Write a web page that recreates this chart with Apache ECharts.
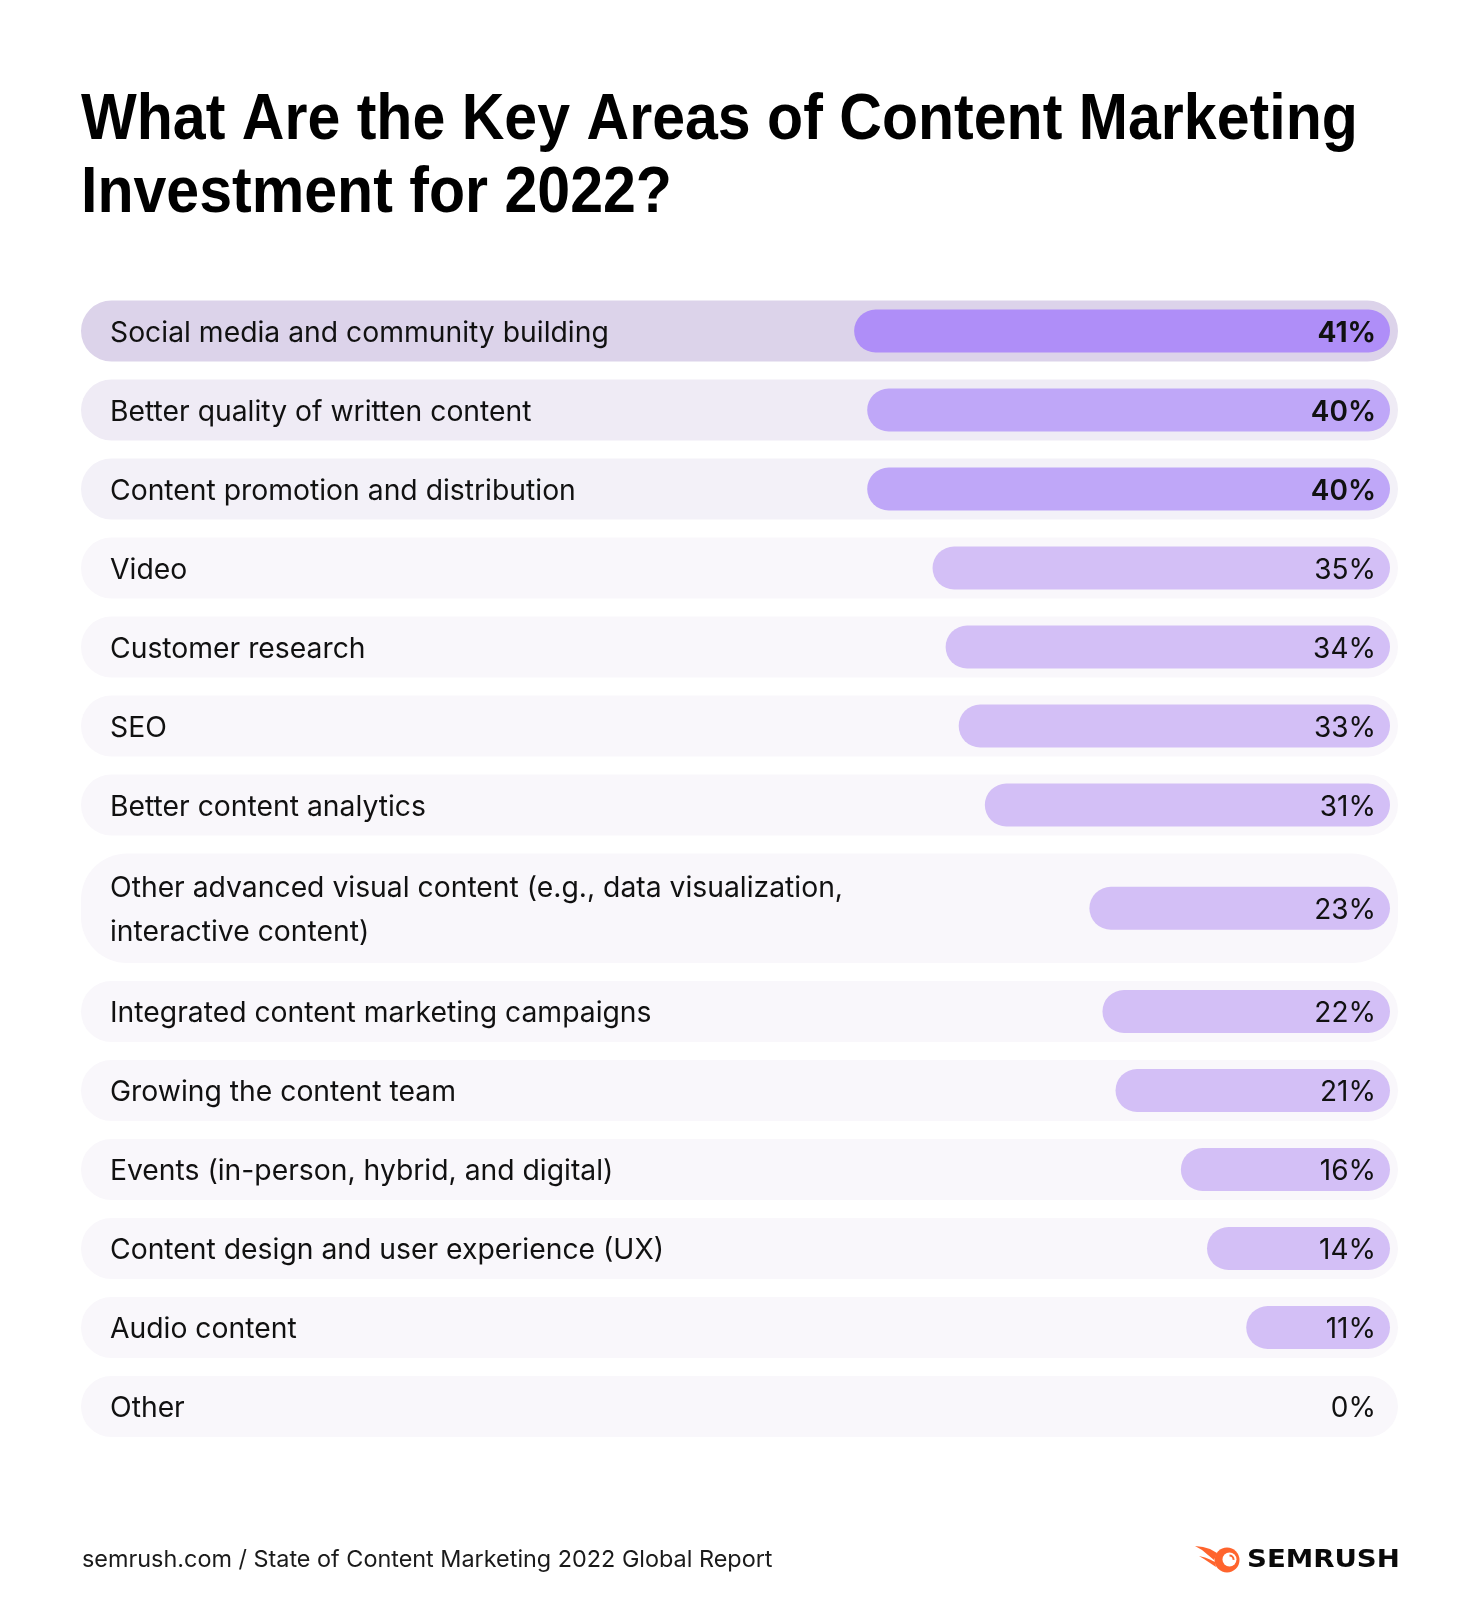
<!DOCTYPE html>
<html>
<head>
<meta charset="utf-8">
<style>
  html, body { margin: 0; padding: 0; background: #ffffff; }
  #chart { width: 1481px; height: 1600px; }
</style>
<script src="https://cdn.jsdelivr.net/npm/echarts@6/dist/echarts.min.js"></script>
</head>
<body>
<div id="chart"></div>
<script>
const titleLines = ['What Are the Key Areas of Content Marketing', 'Investment for 2022?'];
const sourceText = 'semrush.com / State of Content Marketing 2022 Global Report';
const categories = [
  'Social media and community building',
  'Better quality of written content',
  'Content promotion and distribution',
  'Video',
  'Customer research',
  'SEO',
  'Better content analytics',
  'Other advanced visual content (e.g., data visualization,\ninteractive content)',
  'Integrated content marketing campaigns',
  'Growing the content team',
  'Events (in-person, hybrid, and digital)',
  'Content design and user experience (UX)',
  'Audio content',
  'Other'
];
const values = [41, 40, 40, 35, 34, 33, 31, 23, 22, 21, 16, 14, 11, 0];

// layout helpers (row slots in axis units)
const extraLineUnits = 0.614;
let cursor = 0;
const rows = categories.map((c, i) => {
  const lines = c.split('\n').length;
  const units = 1 + (lines - 1) * extraLineUnits;
  const item = [values[i], cursor, units, i];
  cursor += units;
  return item;
});
const totalUnits = cursor;

const rowBg = ['#DCD3EA', '#EFEBF5', '#F3F1F8', '#F9F7FB'];
const barColors = ['#AF8EF8', '#BFA7F8', '#BFA7F8', '#D3BFF6'];
const valueWeights = [700, 600, 600, 400];
const FONT = 'Inter, "Noto Sans", sans-serif';

const chart = echarts.init(document.getElementById('chart'), null, { renderer: 'canvas' });

const option = {
  backgroundColor: '#ffffff',
  animation: false,
  grid: { left: 83, right: 91, top: 291.5, height: 1154.5 },
  xAxis: { type: 'value', inverse: true, min: 0, max: 100, show: false },
  yAxis: { type: 'value', inverse: true, min: 0, max: totalUnits, show: false },
  series: [{
    type: 'custom',
    data: rows,
    encode: { x: 0, y: 1 },
    renderItem: function (params, api) {
      const v = api.value(0), s = api.value(1), u = api.value(2), i = api.value(3);
      const tier = Math.min(i, 3);
      const top = api.coord([0, s]);
      const bot = api.coord([0, s + u]);
      const xZero = top[0];
      const xMax = api.coord([100, s])[0];
      const gap = 18;
      const rowTop = top[1] + gap / 2;
      const rowH = bot[1] - top[1] - gap;
      const cy = rowTop + rowH / 2;
      const children = [];
      children.push({
        type: 'rect',
        shape: { x: xMax - 2, y: rowTop, width: (xZero + 8) - (xMax - 2), height: rowH, r: Math.min(rowH / 2, 46) },
        style: { fill: rowBg[tier] }
      });
      if (v > 0) {
        const xv = api.coord([v, s])[0];
        const bh = 43;
        children.push({
          type: 'rect',
          shape: { x: xv, y: cy - bh / 2, width: xZero - xv, height: bh, r: bh / 2 },
          style: { fill: barColors[tier] }
        });
      }
      children.push({
        type: 'text',
        style: {
          x: xMax + 27, y: cy + 2,
          text: categories[i],
          align: 'left', verticalAlign: 'middle',
          fontFamily: FONT, fontSize: 28.3, lineHeight: 44,
          fill: '#111111'
        }
      });
      children.push({
        type: 'text',
        style: {
          x: xZero - 14, y: cy + 2.5,
          text: v + '%',
          align: 'right', verticalAlign: 'middle',
          fontFamily: FONT, fontSize: 28, fontWeight: valueWeights[tier],
          fill: '#111111'
        }
      });
      return { type: 'group', children: children };
    }
  }],
  graphic: [
    {
      type: 'text', x: 81, y: 121.6, scaleX: 0.923,
      style: { x: 0, y: 0, text: titleLines[0], align: 'left', verticalAlign: 'middle',
        fontFamily: '"Liberation Sans", Arial, sans-serif', fontWeight: 700, fontSize: 64, fill: '#000000' }
    },
    {
      type: 'text', x: 81, y: 194, scaleX: 0.923,
      style: { x: 0, y: 0, text: titleLines[1], align: 'left', verticalAlign: 'middle',
        fontFamily: '"Liberation Sans", Arial, sans-serif', fontWeight: 700, fontSize: 64, fill: '#000000' }
    },
    {
      type: 'text', x: 82, y: 1560,
      style: { x: 0, y: 0, text: sourceText, align: 'left', verticalAlign: 'middle', fontFamily: FONT, fontSize: 23.4, fill: '#1a1a1a' }
    },
    { type: 'polygon', shape: { points: [[1195, 1546], [1203, 1547], [1210, 1549], [1217, 1553], [1214, 1560], [1208, 1555], [1202, 1550]] }, style: { fill: '#FF642D' } },
    { type: 'polygon', shape: { points: [[1199, 1556], [1205, 1557.5], [1210, 1559.5], [1215, 1562], [1216, 1567], [1210, 1563], [1204, 1559]] }, style: { fill: '#FF642D' } },
    { type: 'circle', shape: { cx: 1227, cy: 1560, r: 12.5 }, style: { fill: '#FF642D' } },
    { type: 'circle', shape: { cx: 1229.5, cy: 1559.5, r: 7 }, style: { fill: '#ffffff' } },
    { type: 'arc', shape: { cx: 1229.5, cy: 1559.5, r: 4, startAngle: -Math.PI / 2, endAngle: 0.1 }, style: { stroke: '#FF642D', lineWidth: 2, fill: null } },
    { type: 'text', x: 1247, y: 1560.5, scaleX: 1.15, style: { x: 0, y: 0, text: 'SEMRUSH', align: 'left', verticalAlign: 'middle', fontFamily: '"DejaVu Sans", sans-serif', fontWeight: 700, fontSize: 24, fill: '#0a0a0a' } }
  ]
};
chart.setOption(option);
</script>
</body>
</html>
